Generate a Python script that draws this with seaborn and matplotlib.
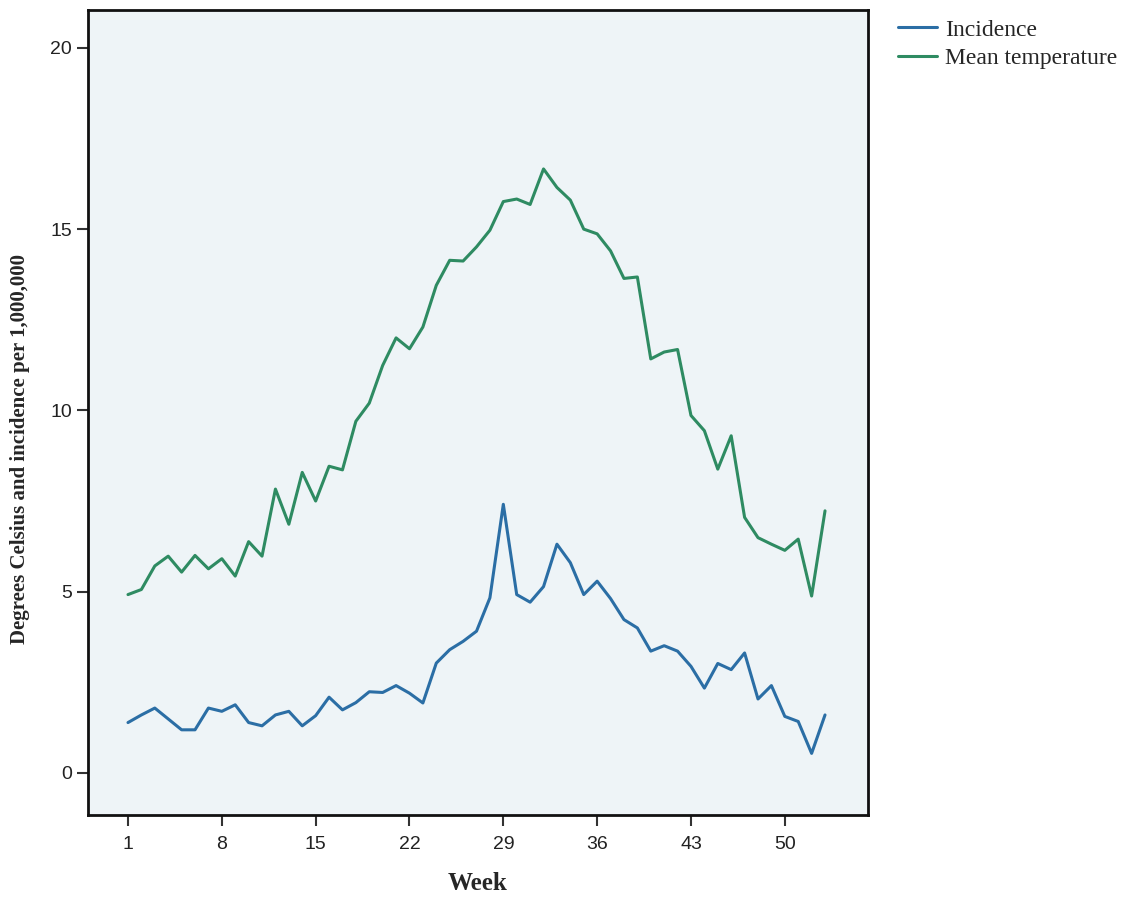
import matplotlib
matplotlib.use("Agg")
import matplotlib.pyplot as plt
import seaborn as sns
import numpy as np
import pandas as pd

# weeks 1..53
weeks = list(range(1, 54))

incidence = [1.39, 1.60, 1.79, 1.49, 1.19, 1.19, 1.79, 1.70, 1.88, 1.39,
             1.30, 1.60, 1.70, 1.30, 1.58, 2.09, 1.74, 1.94, 2.24, 2.22,
             2.41, 2.20, 1.93, 3.03, 3.40, 3.63, 3.91, 4.83, 7.41, 4.92,
             4.71, 5.14, 6.31, 5.80, 4.92, 5.29, 4.81, 4.23, 4.00, 3.36,
             3.51, 3.36, 2.94, 2.34, 3.02, 2.85, 3.31, 2.04, 2.41, 1.56,
             1.42, 0.54, 1.60]

mean_temp = [4.92, 5.06, 5.71, 5.98, 5.54, 6.00, 5.63, 5.91, 5.43, 6.38,
             5.98, 7.83, 6.86, 8.29, 7.50, 8.46, 8.36, 9.70, 10.20, 11.24,
             12.00, 11.70, 12.30, 13.45, 14.14, 14.12, 14.51, 14.97, 15.76, 15.83,
             15.68, 16.66, 16.15, 15.80, 15.00, 14.87, 14.40, 13.64, 13.68, 11.42,
             11.61, 11.68, 9.86, 9.44, 8.38, 9.30, 7.05, 6.49, 6.31, 6.14,
             6.45, 4.88, 7.23]

week_ticks = [1, 8, 15, 22, 29, 36, 43, 50]
y_ticks = [0, 5, 10, 15, 20]

df = pd.DataFrame({
    "Week": weeks * 2,
    "value": incidence + mean_temp,
    "series": ["Incidence"] * len(weeks) + ["Mean temperature"] * len(weeks),
})

sns.set_style("ticks")
fig = plt.figure(figsize=(11.39, 8.97), dpi=100)
ax = fig.add_axes([0.0773, 0.0914, 0.6847, 0.8977])
ax.set_facecolor("#eef4f7")

pal = {"Incidence": "#2b6ea5", "Mean temperature": "#2e8b62"}
sns.lineplot(data=df, x="Week", y="value", hue="series", palette=pal,
             linewidth=2.2, ax=ax)

ax.set_xlim(-1.98, 56.2)
ax.set_ylim(-1.16, 21.05)
ax.set_xticks(week_ticks)
ax.set_yticks(y_ticks)
ax.tick_params(axis="both", direction="out", length=8, width=1.5,
               labelsize=14, color="#333333", labelcolor="#222222")
ax.tick_params(axis="x", pad=7)
for lab in ax.get_xticklabels() + ax.get_yticklabels():
    lab.set_family("Liberation Sans")
for sp in ax.spines.values():
    sp.set_visible(True)
    sp.set_linewidth(2)
    sp.set_color("#111111")

ax.set_xlabel("Week", family="Liberation Serif", fontweight="bold",
              fontsize=18, labelpad=14)
ax.set_ylabel("Degrees Celsius and incidence per 1,000,000",
              family="Liberation Serif", fontweight="bold", fontsize=15)
ax.yaxis.set_label_coords(-0.074, 0.455)

handles, labels = ax.get_legend_handles_labels()
ax.legend(handles, labels, loc="upper left", bbox_to_anchor=(1.026, 1.0),
          frameon=False, prop={"family": "Liberation Serif", "size": 17},
          handlelength=1.65, handletextpad=0.35, labelspacing=0.3,
          borderaxespad=0)

fig.savefig("out.png", dpi=100)
